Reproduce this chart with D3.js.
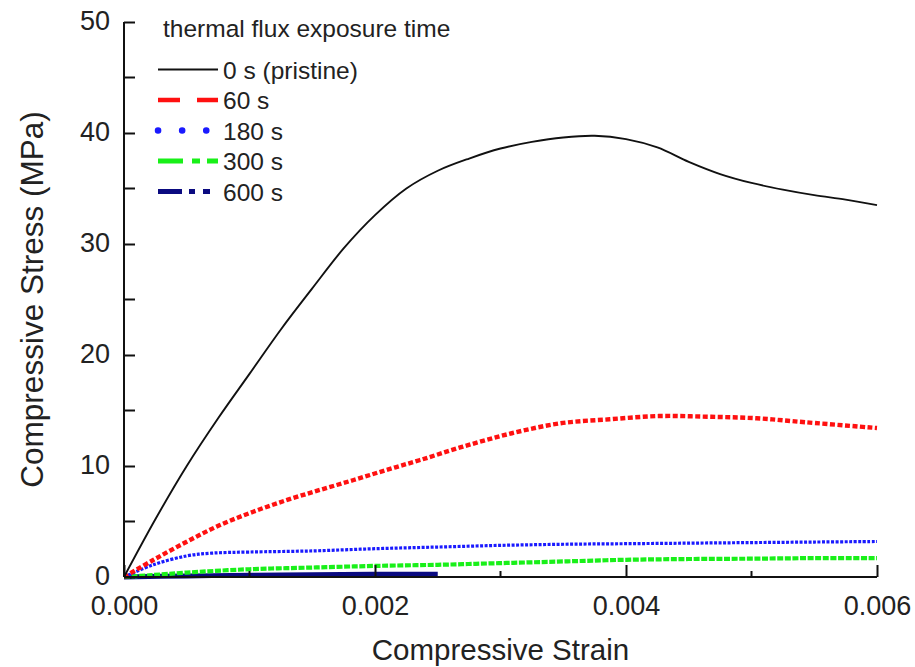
<!DOCTYPE html>
<html>
<head>
<meta charset="utf-8">
<script src="https://cdn.jsdelivr.net/npm/d3@7"></script>
<style>
  html, body { margin: 0; padding: 0; background: #fff; }
  svg { display: block; }
  text { font-family: "Liberation Sans", Arial, Helvetica, sans-serif; fill: #222; }
</style>
</head>
<body>
<svg id="chart" width="915" height="667"></svg>
<script>
// ---------- data ----------
const xTicks = [0, 0.002, 0.004, 0.006];
const xMinorTicks = [0.001, 0.003, 0.005];
const yTicks = [0, 10, 20, 30, 40, 50];
const yMinorTicks = [5, 15, 25, 35, 45];

const legendTitle = "thermal flux exposure time";
const seriesNames = ["0 s (pristine)", "60 s", "180 s", "300 s", "600 s"];

const strain0 = [0, 0.00025, 0.0005, 0.00075, 0.001, 0.00125, 0.0015, 0.00175, 0.002, 0.00225, 0.0025, 0.00275, 0.003, 0.00325, 0.0035, 0.00375, 0.004, 0.00425, 0.0045, 0.00475, 0.005, 0.00525, 0.0055, 0.00575, 0.006];
const stress0 = [0, 5.2, 10.0, 14.3, 18.3, 22.3, 26.0, 29.6, 32.6, 35.0, 36.6, 37.7, 38.6, 39.2, 39.6, 39.75, 39.45, 38.7, 37.4, 36.3, 35.5, 34.9, 34.4, 34.0, 33.5];

const strain60 = [0, 0.000233, 0.0005, 0.000765, 0.00103, 0.0013, 0.00156, 0.00183, 0.00209, 0.00236, 0.0027, 0.00309, 0.00348, 0.00387, 0.00426, 0.00465, 0.00504, 0.00543, 0.006];
const stress60 = [0, 1.53, 3.18, 4.68, 5.88, 6.94, 7.84, 8.74, 9.64, 10.54, 11.74, 12.95, 13.85, 14.21, 14.50, 14.44, 14.30, 13.94, 13.42];

const strain180 = [0, 0.000233, 0.0005, 0.0007, 0.001, 0.0015, 0.002, 0.0025, 0.003, 0.0035, 0.004, 0.0045, 0.005, 0.0055, 0.006];
const stress180 = [0, 1.1, 1.9, 2.15, 2.25, 2.35, 2.55, 2.7, 2.85, 2.95, 3.0, 3.05, 3.1, 3.15, 3.2];

const strain300 = [0, 0.0002, 0.0005, 0.001, 0.0015, 0.002, 0.0025, 0.003, 0.0035, 0.004, 0.0045, 0.005, 0.0055, 0.006];
const stress300 = [0, 0.15, 0.4, 0.7, 0.85, 1.0, 1.1, 1.25, 1.4, 1.55, 1.62, 1.65, 1.7, 1.7];

const strain600 = [0, 0.0005, 0.001, 0.0015, 0.002, 0.0025];
const stress600 = [0, 0.1, 0.15, 0.2, 0.25, 0.25];

// ---------- setup ----------
const svg = d3.select("#chart");
const x = d3.scaleLinear().domain([0, 0.006]).range([124, 877]);
const y = d3.scaleLinear().domain([0, 50]).range([577, 22]);

const series = [
  { name: seriesNames[0], xs: strain0,   ys: stress0,   color: "#111111", width: 1.9, dash: null,
    lgWidth: 1.8, lgDash: null },
  { name: seriesNames[1], xs: strain60,  ys: stress60,  color: "#ff1010", width: 4.4, dash: "5,2.5",
    lgWidth: 4.5, lgDash: "22,17" },
  { name: seriesNames[2], xs: strain180, ys: stress180, color: "#1a1aff", width: 3.2, dash: "3,1.5",
    lgWidth: 6.5, lgDash: "0.1,24", cap: "round" },
  { name: seriesNames[3], xs: strain300, ys: stress300, color: "#19f019", width: 4.2, dash: "6,1.6",
    lgWidth: 5, lgDash: "25,9,8,7,11,100" },
  { name: seriesNames[4], xs: strain600, ys: stress600, color: "#0a0a80", width: 5, dash: null,
    lgWidth: 5, lgDash: "24,7,6,8,7,100" }
];

const line = d3.line()
  .x(d => x(d[0]))
  .y(d => y(d[1]))
  .curve(d3.curveCatmullRom.alpha(0.5));

// ---------- curves (draw from back to front) ----------
const order = [4, 3, 2, 1, 0];
order.forEach(i => {
  const s = series[i];
  const pts = s.xs.map((v, k) => [v, s.ys[k]]);
  svg.append("path")
    .datum(pts)
    .attr("d", line)
    .attr("fill", "none")
    .attr("stroke", s.color)
    .attr("stroke-width", s.width)
    .attr("stroke-dasharray", s.dash)
    .attr("stroke-linejoin", "round");
});

// ---------- axes ----------
const fs = 27;
// X axis
const gx = svg.append("g").attr("transform", `translate(0,${y(0)})`);
gx.call(d3.axisBottom(x).tickValues(xTicks).tickSize(-12).tickFormat(d3.format(".3f")).tickPadding(0));
gx.selectAll(".tick text").attr("y", 38).attr("dy", null);
gx.append("g").call(g => g.selectAll("line.minor").data(xMinorTicks).enter().append("line")
  .attr("x1", d => x(d)).attr("x2", d => x(d)).attr("y1", 0).attr("y2", -6)
  .attr("stroke", "#111").attr("stroke-width", 2));

// Y axis
const gy = svg.append("g").attr("transform", `translate(${x(0)},0)`);
gy.call(d3.axisLeft(y).tickValues(yTicks).tickSize(-11).tickFormat(d3.format("d")).tickPadding(14));
gy.selectAll(".tick text").attr("dy", "0.28em");
gy.append("g").call(g => g.selectAll("line.minor").data(yMinorTicks).enter().append("line")
  .attr("x1", 0).attr("x2", 11).attr("y1", d => y(d)).attr("y2", d => y(d))
  .attr("stroke", "#111").attr("stroke-width", 2));

[gx, gy].forEach(g => {
  g.select(".domain").attr("stroke", "#111").attr("stroke-width", 2);
  g.selectAll(".tick line").attr("stroke", "#111").attr("stroke-width", 2);
  g.selectAll(".tick text")
    .style("font-family", "'Liberation Sans', Arial, sans-serif")
    .style("font-size", fs + "px")
    .attr("fill", "#222");
});
gx.select(".domain").attr("d", `M${x(0)},0H${x(0.006)}`);
gy.select(".domain").attr("d", `M0,${y(0)}V${y(50)}`);

// Axis titles
svg.append("text")
  .attr("x", (x(0) + x(0.006)) / 2)
  .attr("y", 660)
  .attr("text-anchor", "middle")
  .style("font-size", "29.5px")
  .text("Compressive Strain");

svg.append("text")
  .attr("transform", `translate(43,${(y(0) + y(50)) / 2}) rotate(-90)`)
  .attr("text-anchor", "middle")
  .style("font-size", "31.5px")
  .text("Compressive Stress (MPa)");

// ---------- legend ----------
const lg = svg.append("g");
lg.append("text")
  .attr("x", 163).attr("y", 37)
  .style("font-size", "24.5px")
  .text(legendTitle);

const rowY0 = 69.5, rowDy = 30.5;
series.forEach((s, i) => {
  const yy = rowY0 + i * rowDy;
  lg.append("line")
    .attr("x1", 158).attr("x2", 218)
    .attr("y1", yy).attr("y2", yy)
    .attr("stroke", s.color)
    .attr("stroke-width", s.lgWidth)
    .attr("stroke-dasharray", s.lgDash)
    .attr("stroke-linecap", s.cap || "butt");
  lg.append("text")
    .attr("x", 223).attr("y", yy + 9)
    .style("font-size", "24.5px")
    .text(s.name);
});
</script>
</body>
</html>
